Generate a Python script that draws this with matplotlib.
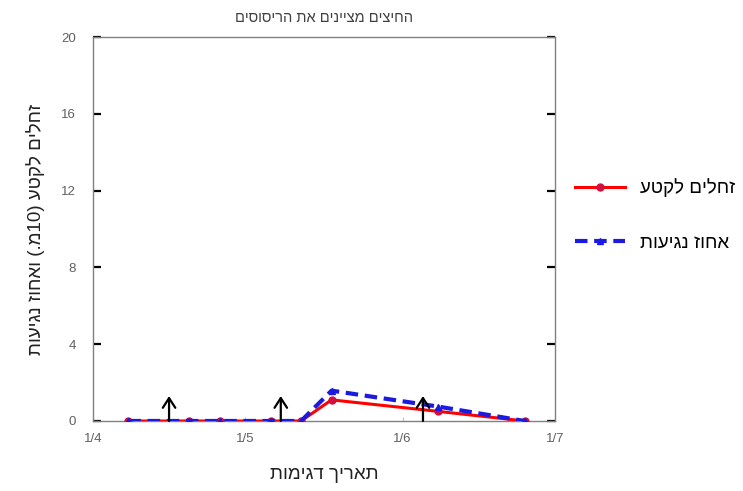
import datetime as dt
import matplotlib
matplotlib.use("Agg")
import matplotlib.pyplot as plt

plt.rcParams['font.family'] = ['Liberation Sans', 'DejaVu Sans']

# sample dates (day, month) and values
sample_dates = [(8, 4), (20, 4), (26, 4), (6, 5), (12, 5), (18, 5), (8, 6), (25, 6)]
larvae = [0, 0, 0, 0, 0, 1.1, 0.5, 0]          # larvae per 10 m section
infestation = [0, 0, 0, 0, 0, 1.58, 0.75, 0]   # infestation percent
spray_dates = [(16, 4), (8, 5), (5, 6)]         # arrows = sprays
arrow_height = 1.3

# Hebrew text is written in visual order (matplotlib has no bidi support)
def rtl(s):
    return s[::-1]

title_text = "החיצים מציינים את הריסוסים"
xlabel_text = "תאריך דגימות"
ylabel_text = "תועיגנ זוחאו (.מ10) עטקל םילחז"   # already visual order
legend_labels = ["זחלים לקטע", "אחוז נגיעות"]
month_ticks = [(1, 4), (1, 5), (1, 6), (1, 7)]

year = 2012
def to_date(dm):
    return dt.datetime(year, dm[1], dm[0])

x = [to_date(d) for d in sample_dates]
sprays = [to_date(d) for d in spray_dates]
ticks = [to_date(d) for d in month_ticks]

fig = plt.figure(figsize=(7.43, 4.91), dpi=100)
ax = fig.add_axes([0.125, 0.1426, 0.622, 0.782])

ax.plot(x, larvae, color='#ff0000', lw=2.2, marker='o', ms=5,
        mfc='#d01040', mec='#d01040', label=rtl(legend_labels[0]), zorder=3)
ax.plot(x, infestation, color='#1a1ae0', lw=3, ls=(0, (3, 1.6)), marker='^', ms=5,
        mfc='#1a1ae0', mec='#1a1ae0', label=rtl(legend_labels[1]), zorder=4)

for d in sprays:
    ax.annotate('', xy=(d, arrow_height), xytext=(d, 0),
                arrowprops=dict(arrowstyle='->,head_length=0.7,head_width=0.45',
                                lw=1.6, color='black', shrinkA=0, shrinkB=0),
                zorder=5)

ax.set_xlim(ticks[0], ticks[-1])
ax.set_ylim(0, 20)
ax.set_yticks([0, 4, 8, 12, 16, 20])
ax.set_xticks(ticks)
ax.set_xticklabels(["%d/%d" % d for d in month_ticks])

for s in ax.spines.values():
    s.set_color('#808080')
    s.set_linewidth(1)

ax.tick_params(axis='y', direction='in', length=6, width=1.6, color='black',
               right=True, labelsize=9.5, labelcolor='#606060', pad=12)
ax.tick_params(axis='x', direction='in', length=3, width=0.8, color='#c0c0c0',
               labelsize=9.5, labelcolor='#606060', pad=9)

ax.set_title(rtl(title_text), fontsize=10.5, color='#404040', pad=11)
ax.set_xlabel(rtl(xlabel_text), fontsize=13.5, color='#222222', labelpad=15)
ax.set_ylabel(ylabel_text, fontsize=13.5, color='#222222', labelpad=12)

ax.legend(loc='center left', bbox_to_anchor=(1.006, 0.536), frameon=False,
          fontsize=13.5, handlelength=2.7, labelspacing=2.0, handletextpad=0.8)

fig.savefig("out.png", dpi=100)
